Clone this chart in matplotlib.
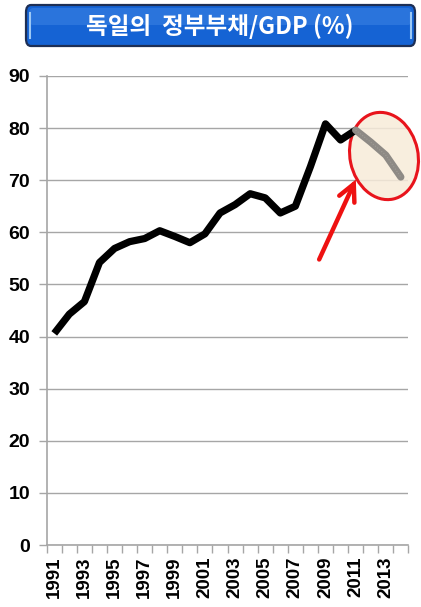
import matplotlib
matplotlib.use("Agg")
import matplotlib.pyplot as plt
from matplotlib.patches import FancyBboxPatch, Ellipse, FancyArrowPatch
import numpy as np

plt.rcParams['font.family'] = ['Liberation Sans', 'Noto Sans CJK KR', 'DejaVu Sans']

# German government debt, % of GDP
years = list(range(1991, 2015))
debt_actual = [40.6, 44.3, 46.7, 54.2, 56.9, 58.2, 58.8, 60.3, 59.2, 58.0, 59.7,
               63.7, 65.3, 67.4, 66.6, 63.7, 65.0, 72.6, 80.8, 77.7, 79.6]
debt_forecast = [79.6, 77.3, 74.8, 70.6]          # 2011 (joint point) .. 2014
tick_years = [str(y) for y in years[::2]]
title = "독일의  정부부채/GDP (%)"

fig = plt.figure(figsize=(4.21, 6.07), dpi=100)
ax = fig.add_axes([0.111, 0.102, 0.859, 0.773])

x_act = np.arange(len(debt_actual))
x_fc = np.arange(len(debt_actual) - 1, len(debt_actual) - 1 + len(debt_forecast))

# highlight ellipse around the forecast, drawn in pixel coordinates
ell_face = Ellipse((384, 607 - 156), 68, 88, angle=12, transform=None,
                   facecolor='#f7ebd9', edgecolor='none', alpha=0.85,
                   zorder=2, clip_on=False)
ell_edge = Ellipse((384, 607 - 156), 68, 88, angle=12, transform=None,
                   facecolor='none', edgecolor='#e8141c', linewidth=2.2,
                   zorder=4, clip_on=False)
ax.add_patch(ell_face)
ax.add_patch(ell_edge)

ax.plot(x_act, debt_actual, color='black', linewidth=5.2, solid_joinstyle='round',
        solid_capstyle='butt', zorder=5)
ax.plot(x_fc, debt_forecast, color='#8e8a85', linewidth=5.2, solid_joinstyle='round',
        solid_capstyle='round', zorder=6)
ax.plot(x_fc, debt_forecast, color='#a09c96', linewidth=0.8, linestyle=(0, (1, 1.5)),
        zorder=7)

ax.set_xlim(-0.5, len(years) - 0.5)
ax.set_ylim(0, 90)
ax.set_yticks(range(0, 91, 10))
ax.grid(axis='y', color='#a6a6a6', linewidth=1.0, zorder=0)
ax.set_axisbelow(True)

ax.set_xticks(np.arange(-0.5, len(years), 1.0))
ax.set_xticklabels([])
ax.set_xticks(np.arange(0, len(years), 2), minor=True)
ax.set_xticklabels(tick_years, minor=True, rotation=90, fontsize=13.5,
                   fontweight='bold')
ax.tick_params(axis='x', which='major', length=6, color='#a6a6a6', width=1)
ax.tick_params(axis='x', which='minor', length=0, pad=8)
ax.tick_params(axis='y', length=6, color='#a6a6a6', width=1, labelsize=14, pad=6)
for lbl in ax.get_yticklabels():
    lbl.set_fontweight('bold')

for side in ['top', 'right']:
    ax.spines[side].set_visible(False)
for side in ['left', 'bottom']:
    ax.spines[side].set_color('#a6a6a6')
    ax.spines[side].set_linewidth(1.2)

# red arrow pointing at the forecast
arr = FancyArrowPatch((318, 607 - 262), (357, 607 - 177), transform=None,
                      arrowstyle='->,head_length=12,head_width=6',
                      color='#ee1111', linewidth=3.2, zorder=8,
                      capstyle='round', joinstyle='miter')
fig.patches.append(arr)

# title banner
fig.patches.append(FancyBboxPatch((26 / 421, 1 - 46 / 607), 389 / 421, 41 / 607,
                                  boxstyle='round,pad=0,rounding_size=0.012',
                                  transform=fig.transFigure, facecolor='#1563d4',
                                  edgecolor='#1d2f55', linewidth=1.6))
fig.patches.append(FancyBboxPatch((29 / 421, 1 - 25 / 607), 383 / 421, 17 / 607,
                                  boxstyle='round,pad=0,rounding_size=0.01',
                                  transform=fig.transFigure, facecolor='#4a90ea',
                                  edgecolor='none', alpha=0.4))
for xp in (30, 411):
    fig.lines.append(plt.Line2D([xp / 421, xp / 421], [1 - 38 / 607, 1 - 13 / 607],
                                transform=fig.transFigure, color='#9cc8f5',
                                linewidth=1.5))
fig.text(220 / 421, 1 - 26 / 607, title, ha='center', va='center', color='white',
         fontsize=17, fontweight='bold',
         family=['Noto Sans CJK KR', 'DejaVu Sans'])

fig.savefig('out.png', dpi=100)
